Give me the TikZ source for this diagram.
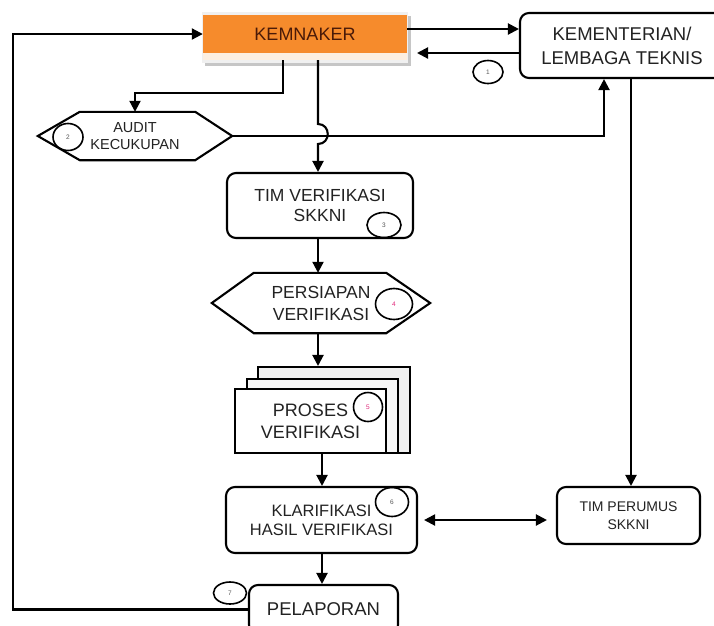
\documentclass[tikz,border=0pt]{standalone}
\usepackage{fontspec}
\setmainfont{Liberation Sans}
\usetikzlibrary{arrows.meta,shapes.geometric}
\definecolor{kemorange}{HTML}{F68B2C}
\definecolor{kemtext}{HTML}{4A1A08}
\definecolor{kemlight}{HTML}{FDEFE0}
\definecolor{nummag}{HTML}{E0287A}
\definecolor{numgray}{HTML}{555555}
\definecolor{txt}{HTML}{222222}
\begin{document}
\begin{tikzpicture}[x=1pt,y=-1pt,
  box/.style={draw, line width=2.1pt, rounded corners=9pt, inner sep=0pt, align=center, text=txt},
  plain/.style={inner sep=0pt, align=center, text=txt},
  docsheet/.style={draw, line width=2.1pt, fill=white, inner sep=0pt, text=txt},
  arr/.style={line width=2.1pt, -{Triangle[length=11pt,width=11pt]}},
  arrboth/.style={line width=2.1pt, {Triangle[length=11pt,width=11pt]}-{Triangle[length=11pt,width=11pt]}},
  hexline/.style={line width=2.1pt},
  num/.style={draw, ellipse, line width=1.6pt, inner sep=0pt, font=\fontsize{6.5}{7}\selectfont, text=numgray},
]
\useasboundingbox (0,0) rectangle (714,625);

% KEMNAKER box with shadow
\fill[gray!45] (205,16) rectangle (411,66);
\fill[gray!12] (202,12) rectangle (408,63);
\node[fill=kemorange, minimum width=204pt, minimum height=38pt, inner sep=0pt,
      font=\fontsize{18}{22}\selectfont, text=kemtext] (kem) at (305,34) {KEMNAKER};

% KEMENTERIAN / LEMBAGA TEKNIS
\node[box, minimum width=204pt, minimum height=65pt, font=\fontsize{18.5}{24}\selectfont] (kl) at (622,45.5) {KEMENTERIAN/\\LEMBAGA TEKNIS};

% AUDIT KECUKUPAN (hexagon)
\node[plain, minimum width=194pt, minimum height=48pt, font=\fontsize{14.5}{17}\selectfont] (av) at (135,136) {AUDIT\\KECUKUPAN};
\draw[hexline] (av.west) -- ([xshift=42pt]av.north west) -- ([xshift=-37pt]av.north east) -- (av.east)
  -- ([xshift=-37pt]av.south east) -- ([xshift=42pt]av.south west) -- cycle;

% TIM VERIFIKASI SKKNI
\node[box, minimum width=186pt, minimum height=65pt, font=\fontsize{17.5}{20.5}\selectfont] (tv) at (320,205.5) {TIM VERIFIKASI\\SKKNI};

% PERSIAPAN VERIFIKASI (hexagon)
\node[plain, minimum width=218pt, minimum height=60pt, font=\fontsize{17.5}{22}\selectfont] (pv) at (321,303) {PERSIAPAN\\VERIFIKASI};
\draw[hexline] (pv.west) -- ([xshift=42pt]pv.north west) -- ([xshift=-44pt]pv.north east) -- (pv.east)
  -- ([xshift=-44pt]pv.south east) -- ([xshift=42pt]pv.south west) -- cycle;

% PROSES VERIFIKASI (multi document)
\node[docsheet, fill=gray!12, minimum width=152pt, minimum height=86pt] (prb) at (334,410) {};
\node[docsheet, fill=gray!6, minimum width=151pt, minimum height=74pt] (prm) at (322.5,416) {};
\node[docsheet, minimum width=151pt, minimum height=64pt, align=center, font=\fontsize{18}{22}\selectfont] (pr) at (310.5,421) {PROSES\\VERIFIKASI};

% KLARIFIKASI HASIL VERIFIKASI
\node[box, minimum width=191pt, minimum height=66pt, font=\fontsize{16.5}{19}\selectfont] (kh) at (321.5,520) {KLARIFIKASI\\HASIL VERIFIKASI};

% TIM PERUMUS SKKNI
\node[box, minimum width=143pt, minimum height=57pt, font=\fontsize{14}{18}\selectfont] (tp) at (628.5,515.5) {TIM PERUMUS\\SKKNI};

% PELAPORAN
\node[box, minimum width=149pt, minimum height=49pt, font=\fontsize{18.5}{22}\selectfont] (pl) at (323.5,609.5) {PELAPORAN};

% number circles
\node[num, minimum width=30pt, minimum height=23pt] (n1) at (488,72) {1};
\node[num, minimum width=30pt, minimum height=27pt] (n2) at (68,137) {2};
\node[num, minimum width=34pt, minimum height=25pt] (n3) at (384,225) {3};
\node[num, minimum width=37pt, minimum height=31pt, text=nummag] (n4) at (394,304) {4};
\node[num, minimum width=29pt, minimum height=29pt, text=nummag] (n5) at (368,407) {5};
\node[num, minimum width=33pt, minimum height=29pt] (n6) at (392,502) {6};
\node[num, minimum width=33pt, minimum height=22pt] (n7) at (230,593) {7};

% helper coordinates
\coordinate (k1) at (283,53);
\coordinate (k1b) at (283,93);
\coordinate (k1c) at (135,93);
\coordinate (k2) at (318,53);
\coordinate (hopa) at (318,124);
\coordinate (hopb) at (318,144);
\coordinate (ar) at (604,136);
\coordinate (lb) at (13,609.5);
\coordinate (lt) at (13,34);
\coordinate (backtip) at (417,53);

% connectors
\draw[arr] (kem.east |- 0,29) -- (kl.west |- 0,29);
\draw[arr] (kl.west |- 0,53) -- (backtip);
\draw[arr] (k1) -- (k1b) -- (k1c) -- (av.north);
\draw[arr] (av.east) -- (ar) -- (kl.south -| ar);
\draw[arr] (k2) -- (hopa) .. controls (331,124) and (331,144) .. (hopb) -- (tv.north -| k2);
\draw[arr] (kl.south -| 631,0) -- (tp.north -| 631,0);
\draw[arr] (tv.south -| 318,0) -- (pv.north -| 318,0);
\draw[arr] (pv.south -| 318,0) -- (prb.north -| 318,0);
\draw[arr] (pr.south -| 322,0) -- (kh.north -| 322,0);
\draw[arrboth, shorten <=6pt, shorten >=9pt] (kh.east) -- (tp.west |- kh.east);
\draw[arr] (kh.south -| 322,0) -- (pl.north -| 322,0);
\draw[arr] (pl.west) -- (lb) -- (lt) -- (kem.west);

% light bottom strip of KEMNAKER (drawn over the line starts)
\fill[kemlight] (203,53) rectangle (407,60);
\end{tikzpicture}
\end{document}
